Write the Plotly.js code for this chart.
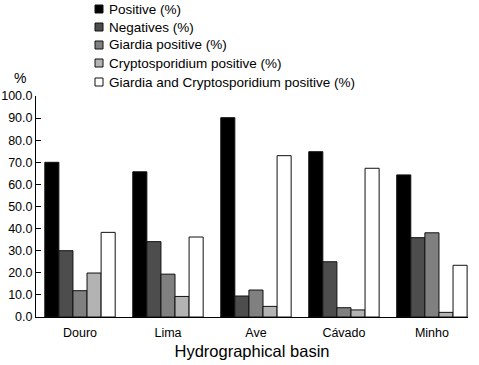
<!DOCTYPE html>
<html>
<head>
<meta charset="utf-8">
<script src="https://cdn.plot.ly/plotly-3.0.1.min.js"></script>
<style>html,body{margin:0;padding:0;background:#fff;}#chart{width:479px;height:365px;}</style>
</head>
<body>
<div id="chart"></div>
<script>
var categories = ["Douro", "Lima", "Ave", "Cávado", "Minho"];
var seriesNames = ["Positive (%)", "Negatives (%)", "Giardia positive (%)", "Cryptosporidium positive (%)", "Giardia and Cryptosporidium positive (%)"];
var positiveVals = [70.0, 65.7, 90.2, 74.8, 64.3];
var negativeVals = [30.0, 34.1, 9.5, 25.0, 35.9];
var giardiaVals = [11.9, 19.4, 12.2, 4.2, 38.1];
var cryptoVals = [19.9, 9.3, 4.8, 3.2, 2.1];
var bothVals = [38.3, 36.2, 73.0, 67.3, 23.4];
var seriesValues = [positiveVals, negativeVals, giardiaVals, cryptoVals, bothVals];
var colors = ["#000000", "#4d4d4d", "#808080", "#b3b3b3", "#ffffff"];
var yTicks = [0, 10, 20, 30, 40, 50, 60, 70, 80, 90, 100];

var W = 479, H = 365, L = 36, R = 11, T = 96, B = 48;
var pw = W - L - R, ph = H - T - B;
function px(x) { return (x - L) / pw; }
function py(y) { return (H - B - y) / ph; }

var font = "Liberation Sans, Arial, sans-serif";
var traces = seriesValues.map(function (vals, i) {
  return {
    type: "bar", x: categories, y: vals, name: seriesNames[i],
    marker: { color: colors[i], line: { color: "#111", width: 1 } },
    showlegend: false, hoverinfo: "x+y"
  };
});

var shapes = [], annotations = [];
var rowY = [9, 27, 45, 63, 82];
seriesNames.forEach(function (n, i) {
  shapes.push({ type: "rect", xref: "paper", yref: "paper",
    x0: px(95), x1: px(103), y0: py(rowY[i] + 4), y1: py(rowY[i] - 4),
    fillcolor: colors[i], line: { color: "#111", width: 1 } });
  annotations.push({ xref: "paper", yref: "paper", x: px(107), y: py(rowY[i]),
    xanchor: "left", yanchor: "middle", text: n, showarrow: false,
    font: { family: font, size: 13.5, color: "#000" } });
});
annotations.push({ xref: "paper", yref: "paper", x: px(20), y: py(78),
  xanchor: "center", yanchor: "middle", text: "%", showarrow: false,
  font: { family: font, size: 14, color: "#000" } });

var layout = {
  width: W, height: H,
  margin: { l: L, r: R, t: T, b: B, pad: 0 },
  paper_bgcolor: "#fff", plot_bgcolor: "#fff",
  barmode: "group", bargap: 0.2, bargroupgap: 0,
  font: { family: font, size: 12, color: "#000" },
  xaxis: {
    type: "category", range: [-0.5, 4.41],
    showline: true, linecolor: "#000", linewidth: 1,
    ticks: "", showgrid: false, zeroline: false,
    ticklabelstandoff: 4,
    tickfont: { family: font, size: 12.5, color: "#000" },
    title: { text: "Hydrographical basin", font: { family: font, size: 16.5, color: "#000" }, standoff: 6 }
  },
  yaxis: {
    range: [0, 100], tickvals: yTicks, tickformat: ".1f",
    showline: true, linecolor: "#000", linewidth: 1,
    ticks: "inside", ticklen: 5, tickcolor: "#000",
    showgrid: false, zeroline: false,
    tickfont: { family: font, size: 12.5, color: "#000" }
  },
  shapes: shapes, annotations: annotations
};
Plotly.newPlot("chart", traces, layout, { displayModeBar: false, staticPlot: true });
</script>
</body>
</html>
